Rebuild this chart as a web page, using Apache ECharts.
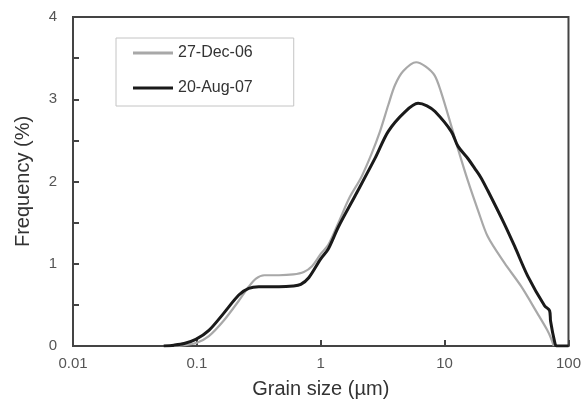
<!DOCTYPE html>
<html>
<head>
<meta charset="utf-8">
<script src="https://cdn.jsdelivr.net/npm/echarts@6/dist/echarts.min.js"></script>
<style>
  html, body { margin: 0; padding: 0; background: #fff; }
  #chart { width: 584px; height: 404px; }
</style>
</head>
<body>
<div id="chart"></div>
<script>
// grain size (µm) / frequency (%) pairs
const dec06 = [
  [0.065, 0], [0.08, 0.01], [0.1, 0.04], [0.125, 0.12], [0.165, 0.31],
  [0.218, 0.55], [0.262, 0.72], [0.3, 0.82], [0.35, 0.86], [0.46, 0.86],
  [0.6, 0.87], [0.73, 0.9], [0.85, 0.97], [1.0, 1.12], [1.15, 1.23],
  [1.39, 1.5], [1.7, 1.8], [2.12, 2.05], [2.56, 2.33], [3.01, 2.61],
  [3.51, 2.93], [3.97, 3.17], [4.62, 3.34], [5.89, 3.45], [7.0, 3.4],
  [8.3, 3.29], [9.35, 3.09], [11.3, 2.68], [12.8, 2.4], [15.4, 2.01],
  [18.6, 1.65], [22.3, 1.33], [30.4, 1.01], [41.3, 0.73], [56, 0.4],
  [67, 0.2], [72, 0.1], [76, 0]
];
const aug07 = [
  [0.054, 0], [0.065, 0.01], [0.079, 0.03], [0.098, 0.08], [0.125, 0.19],
  [0.165, 0.4], [0.218, 0.62], [0.262, 0.7], [0.316, 0.72], [0.46, 0.72],
  [0.6, 0.73], [0.69, 0.75], [0.8, 0.83], [1.0, 1.06], [1.15, 1.18],
  [1.39, 1.45], [1.9, 1.83], [2.76, 2.29], [3.51, 2.61], [4.81, 2.85],
  [6.1, 2.95], [7.2, 2.92], [8.37, 2.85], [11.3, 2.61], [12.8, 2.43],
  [15.4, 2.28], [17.5, 2.16], [19.6, 2.05], [22.3, 1.89], [30, 1.5],
  [36.8, 1.21], [46.9, 0.85], [64.1, 0.49], [70.4, 0.43], [71.7, 0.3],
  [77.3, 0.05], [80, 0], [100, 0]
];
const seriesNames = ["27-Dec-06", "20-Aug-07"];
const xTickLabels = ["0.01", "0.1", "1", "10", "100"];
const yTickLabels = ["0", "1", "2", "3", "4"];

const chart = echarts.init(document.getElementById("chart"));
const font = "Liberation Sans, Arial, sans-serif";

chart.setOption({
  backgroundColor: "#fff",
  animation: false,
  grid: {
    left: 73, right: 13, top: 17, bottom: 53,
    show: true, borderColor: "#444", borderWidth: 2
  },
  legend: {
    data: seriesNames.map((name) => ({ name, icon: "rect" })),
    orient: "vertical",
    left: 116, top: 38,
    padding: [7, 41, 10, 17],
    itemGap: 19,
    itemWidth: 40, itemHeight: 3,
    borderColor: "#c4c4c4", borderWidth: 1,
    textStyle: { fontFamily: font, fontSize: 16, color: "#333" }
  },
  xAxis: {
    type: "log", logBase: 10, min: 0.01, max: 100,
    name: "Grain size (µm)", nameLocation: "middle", nameGap: 33,
    nameTextStyle: { fontFamily: font, fontSize: 20, color: "#333" },
    axisLine: { lineStyle: { color: "#444", width: 2 } },
    axisTick: { inside: true, length: 6, lineStyle: { color: "#444", width: 2 } },
    axisLabel: {
      fontFamily: font, fontSize: 15, color: "#555", margin: 10,
      formatter: (v) => xTickLabels[Math.round(Math.log10(v)) + 2]
    },
    splitLine: { show: false }, minorTick: { show: false }
  },
  yAxis: {
    type: "value", min: 0, max: 4, interval: 0.5,
    name: "Frequency (%)", nameLocation: "middle", nameGap: 40,
    nameTextStyle: { fontFamily: font, fontSize: 20, color: "#333" },
    axisLine: { show: true, lineStyle: { color: "#444", width: 2 } },
    axisTick: { show: true, inside: true, length: 6, lineStyle: { color: "#444", width: 2 } },
    axisLabel: {
      fontFamily: font, fontSize: 15, color: "#555", margin: 16,
      formatter: (v) => (Number.isInteger(v) ? yTickLabels[v] : "")
    },
    splitLine: { show: false }
  },
  series: [
    {
      name: seriesNames[0], type: "line", data: dec06,
      showSymbol: false, symbol: "none", smooth: 0.3,
      color: "#a8a8a8", lineStyle: { color: "#a8a8a8", width: 2.2 }
    },
    {
      name: seriesNames[1], type: "line", data: aug07,
      showSymbol: false, symbol: "none", smooth: 0.3,
      color: "#1a1a1a", lineStyle: { color: "#1a1a1a", width: 3 }
    }
  ]
});
</script>
</body>
</html>
